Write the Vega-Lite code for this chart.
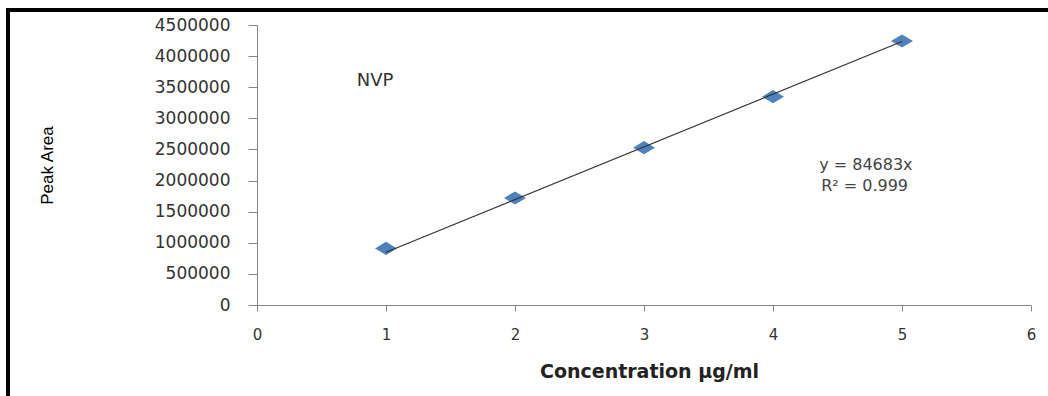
{
  "$schema": "https://vega.github.io/schema/vega-lite/v6.json",
  "width": 774,
  "height": 280,
  "autosize": {"type": "none"},
  "padding": {"left": 257, "top": 25, "right": 17, "bottom": 91},
  "background": "white",
  "config": {
    "view": {"stroke": null},
    "axis": {
      "grid": false,
      "domainColor": "#868686",
      "tickColor": "#868686",
      "labelColor": "#333333",
      "labelFont": "DejaVu Sans",
      "labelOverlap": false,
      "labelFlush": false
    }
  },
  "datasets": {
    "points": [
      {"conc": 1, "area": 910000},
      {"conc": 2, "area": 1720000},
      {"conc": 3, "area": 2528000},
      {"conc": 4, "area": 3348000},
      {"conc": 5, "area": 4243000}
    ],
    "trend": [
      {"conc": 1, "area": 846830},
      {"conc": 5, "area": 4234150}
    ],
    "one": [{}]
  },
  "layer": [
    {
      "data": {"name": "one"},
      "mark": {"type": "rule", "color": "black", "strokeWidth": 4, "clip": false},
      "encoding": {
        "x": {"datum": -1.9457, "type": "quantitative", "scale": {"domain": [0, 6], "nice": false, "zero": false}},
        "x2": {"datum": 6.14},
        "y": {"datum": 4741071, "type": "quantitative", "scale": {"domain": [0, 4500000], "nice": false, "zero": false}}
      }
    },
    {
      "data": {"name": "one"},
      "mark": {"type": "rule", "color": "black", "strokeWidth": 4, "clip": false},
      "encoding": {
        "x": {"datum": -1.9302, "type": "quantitative", "scale": {"domain": [0, 6], "nice": false, "zero": false}},
        "y": {"datum": 4773214, "type": "quantitative", "scale": {"domain": [0, 4500000], "nice": false, "zero": false}},
        "y2": {"datum": -1500000}
      }
    },
    {
      "data": {"name": "points"},
      "mark": {"type": "point", "filled": true, "opacity": 1, "shape": "M-1,0L0,-0.6L1,0L0,0.6Z", "size": 484, "color": "#4F81BD"},
      "encoding": {
        "x": {
          "field": "conc", "type": "quantitative",
          "scale": {"domain": [0, 6], "nice": false, "zero": false},
          "axis": {
            "title": "Concentration µg/ml",
            "values": [0, 1, 2, 3, 4, 5, 6],
            "tickCount": 12,
            "format": "d",
            "labelFontSize": 15,
            "tickSize": 6,
            "labelPadding": 16,
            "titleFont": "DejaVu Sans",
            "titleFontWeight": "bold",
            "titleFontSize": 19,
            "titleColor": "#222222",
            "titleX": 392,
            "titleY": 66,
            "titleBaseline": "middle"
          }
        },
        "y": {
          "field": "area", "type": "quantitative",
          "scale": {"domain": [0, 4500000], "nice": false, "zero": false},
          "axis": {
            "title": "Peak Area",
            "values": [0, 500000, 1000000, 1500000, 2000000, 2500000, 3000000, 3500000, 4000000, 4500000],
            "tickCount": 12,
            "format": "d",
            "labelFontSize": 17,
            "tickSize": 9,
            "labelPadding": 18,
            "titleFont": "Liberation Sans",
            "titleFontWeight": "normal",
            "titleFontSize": 17,
            "titleColor": "#000000",
            "titleX": -210,
            "titleY": 140,
            "titleBaseline": "middle",
            "titleAlign": "center"
          }
        }
      }
    },
    {
      "data": {"name": "trend"},
      "mark": {"type": "line", "color": "#333333", "strokeWidth": 1.2},
      "encoding": {
        "x": {"field": "conc", "type": "quantitative", "scale": {"domain": [0, 6], "nice": false, "zero": false}},
        "y": {"field": "area", "type": "quantitative", "scale": {"domain": [0, 4500000], "nice": false, "zero": false}}
      }
    },
    {
      "data": {"name": "one"},
      "mark": {"type": "text", "text": "NVP", "font": "DejaVu Sans", "fontSize": 18, "color": "#333333", "align": "center", "baseline": "middle"},
      "encoding": {
        "x": {"datum": 0.915, "type": "quantitative", "scale": {"domain": [0, 6], "nice": false, "zero": false}},
        "y": {"datum": 3600000, "type": "quantitative", "scale": {"domain": [0, 4500000], "nice": false, "zero": false}}
      }
    },
    {
      "data": {"name": "one"},
      "mark": {"type": "text", "text": "y = 84683x", "font": "DejaVu Sans", "fontSize": 16, "color": "#444444", "align": "center", "baseline": "middle"},
      "encoding": {
        "x": {"datum": 4.72, "type": "quantitative", "scale": {"domain": [0, 6], "nice": false, "zero": false}},
        "y": {"datum": 2250000, "type": "quantitative", "scale": {"domain": [0, 4500000], "nice": false, "zero": false}}
      }
    },
    {
      "data": {"name": "one"},
      "mark": {"type": "text", "text": "R² = 0.999", "font": "DejaVu Sans", "fontSize": 16, "color": "#444444", "align": "center", "baseline": "middle"},
      "encoding": {
        "x": {"datum": 4.71, "type": "quantitative", "scale": {"domain": [0, 6], "nice": false, "zero": false}},
        "y": {"datum": 1912500, "type": "quantitative", "scale": {"domain": [0, 4500000], "nice": false, "zero": false}}
      }
    }
  ]
}
